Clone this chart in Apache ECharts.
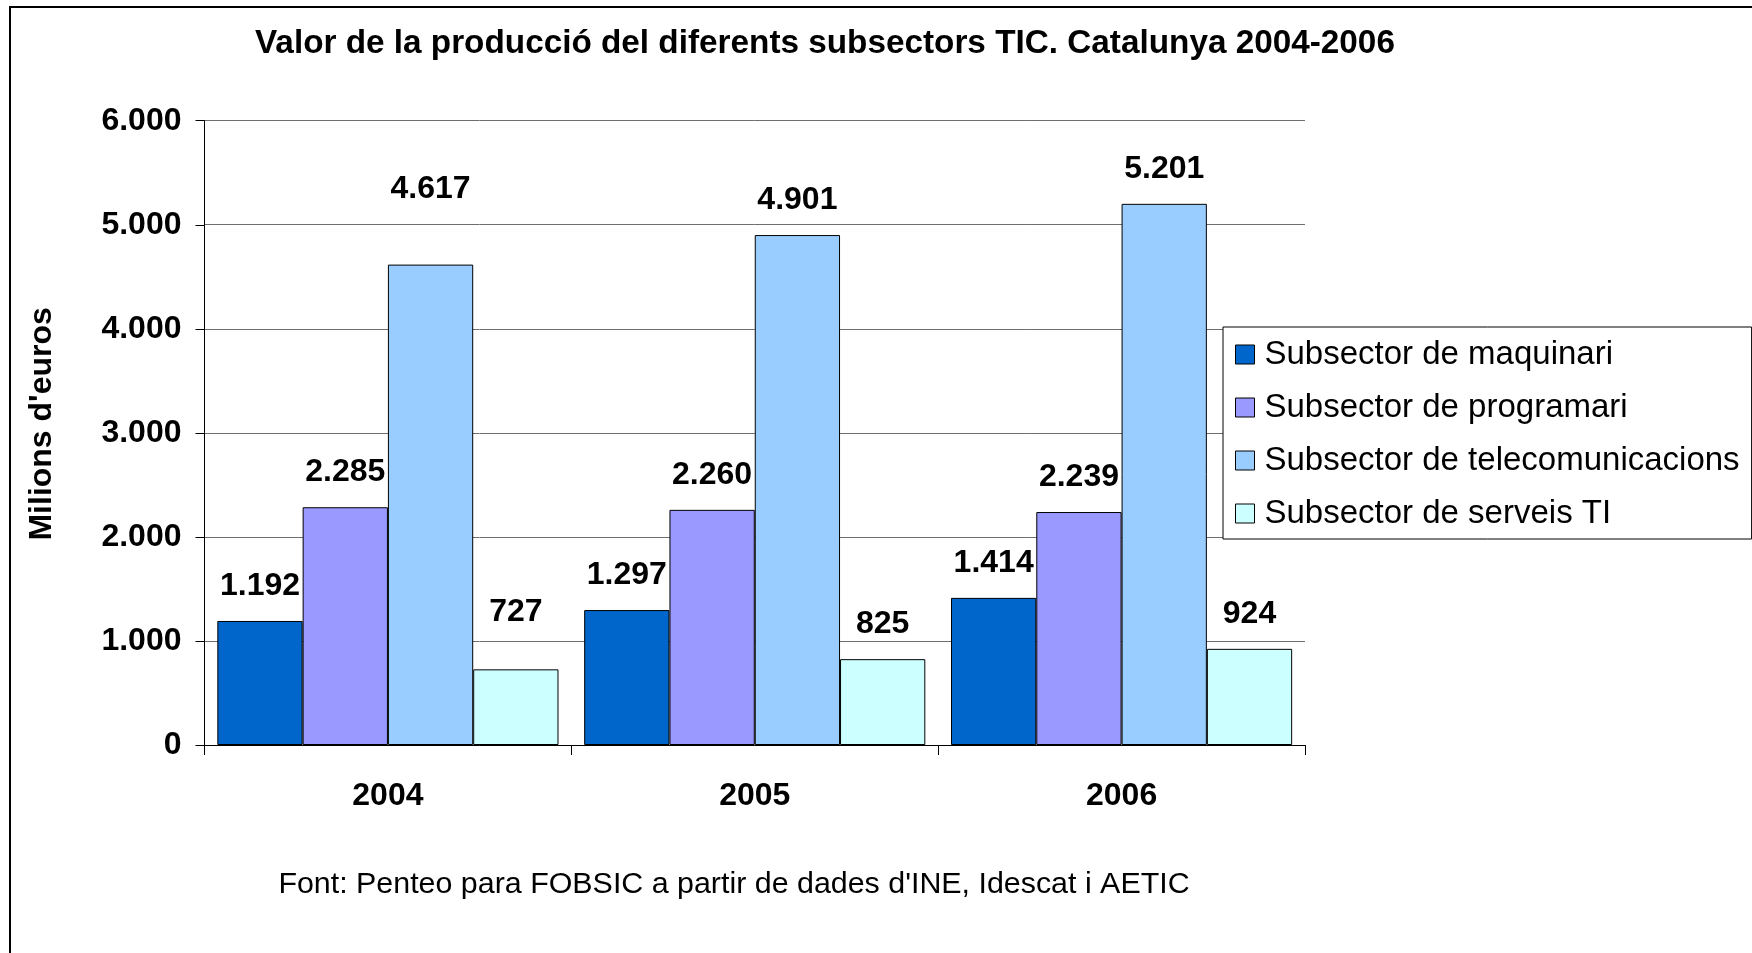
<!DOCTYPE html>
<html>
<head>
<meta charset="utf-8">
<title>Valor de la producció TIC</title>
<script src="https://cdn.jsdelivr.net/npm/echarts@6/dist/echarts.min.js"></script>
<style>
  html, body { margin: 0; padding: 0; background: #fff; }
  #chart { width: 1752px; height: 953px; }
</style>
</head>
<body>
<div id="chart"></div>
<script>
// data
const years = ['2004', '2005', '2006']
const maquinari = [1192, 1297, 1414]
const programari = [2285, 2260, 2239]
const telecomunicacions = [4617, 4901, 5201]
const serveisTI = [727, 825, 924]
const seriesNames = [
  'Subsector de maquinari',
  'Subsector de programari',
  'Subsector de telecomunicacions',
  'Subsector de serveis TI'
]

const FONT = '"Liberation Sans", Arial, sans-serif'
const colors = ['#0066CC', '#9999FF', '#99CCFF', '#CCFFFF']
// some labels were lifted higher in the original
const labelDistances = [
  [19, 19, 19],
  [19, 19, 19],
  [59, 19, 19],
  [41, 19, 19]
]

const fmt = v => String(v).replace(/\B(?=(\d{3})+(?!\d))/g, '.')

const chart = echarts.init(document.getElementById('chart'))

const makeSeries = (name, values, idx) => ({
  name,
  type: 'bar',
  barGap: 0,
  barCategoryGap: '7%',
  itemStyle: { color: colors[idx], borderColor: '#000', borderWidth: 1 },
  data: values.map((v, i) => ({
    value: v,
    label: { distance: labelDistances[idx][i] }
  })),
  label: {
    show: true,
    position: 'top',
    fontFamily: FONT,
    fontSize: 32,
    fontWeight: 'bold',
    color: '#000',
    formatter: p => fmt(p.value)
  }
})

const option = {
  animation: false,
  backgroundColor: '#fff',
  textStyle: { fontFamily: FONT },
  title: {
    text: 'Valor de la producció del diferents subsectors TIC. Catalunya 2004-2006',
    left: 255,
    top: 27,
    padding: 0,
    textStyle: { fontFamily: FONT, fontSize: 33.3, fontWeight: 'bold', color: '#000' }
  },
  legend: {
    orient: 'vertical',
    left: 1223,
    top: 327,
    padding: [11, 12, 9, 12],
    itemWidth: 19,
    itemHeight: 19,
    itemGap: 20,
    icon: 'rect',
    backgroundColor: '#fff',
    borderColor: '#000',
    borderWidth: 1,
    borderRadius: 0,
    itemStyle: { borderColor: '#000', borderWidth: 1 },
    textStyle: { fontFamily: FONT, fontSize: 33, lineHeight: 33, color: '#000', padding: [0, 0, 0, 5] },
    data: seriesNames
  },
  grid: { left: 204.5, right: 447, top: 120.7, bottom: 208 },
  xAxis: {
    type: 'category',
    data: years,
    axisLine: { lineStyle: { color: '#000', width: 1 } },
    axisTick: { show: true, length: 10, lineStyle: { color: '#000' } },
    axisLabel: { margin: 35, fontFamily: FONT, fontSize: 32, fontWeight: 'bold', color: '#000' }
  },
  yAxis: {
    type: 'value',
    min: 0,
    max: 6000,
    interval: 1000,
    name: "Milions d'euros",
    nameLocation: 'middle',
    nameRotate: 90,
    nameGap: 146,
    nameTextStyle: { fontFamily: FONT, fontSize: 32, fontWeight: 'bold', color: '#000', padding: [0, 0, 0, 18] },
    axisLine: { show: true, lineStyle: { color: '#000', width: 1 } },
    axisTick: { show: true, length: 9, lineStyle: { color: '#000' } },
    axisLabel: { margin: 23, fontFamily: FONT, fontSize: 32, fontWeight: 'bold', color: '#000', formatter: fmt },
    splitLine: { show: true, lineStyle: { color: '#6e6e6e', width: 1 } }
  },
  graphic: [
    {
      type: 'rect',
      shape: { x: 10, y: 7, width: 2400, height: 2400 },
      style: { fill: 'none', stroke: '#000', lineWidth: 2 },
      silent: true
    },
    {
      type: 'text',
      x: 734,
      y: 885,
      style: {
        text: "Font: Penteo para FOBSIC a partir de dades d'INE, Idescat i AETIC",
        font: '30.4px ' + FONT,
        fill: '#000',
        textAlign: 'center',
        textVerticalAlign: 'middle'
      }
    }
  ],
  series: [
    makeSeries(seriesNames[0], maquinari, 0),
    makeSeries(seriesNames[1], programari, 1),
    makeSeries(seriesNames[2], telecomunicacions, 2),
    makeSeries(seriesNames[3], serveisTI, 3)
  ]
}

chart.setOption(option)
</script>
</body>
</html>
